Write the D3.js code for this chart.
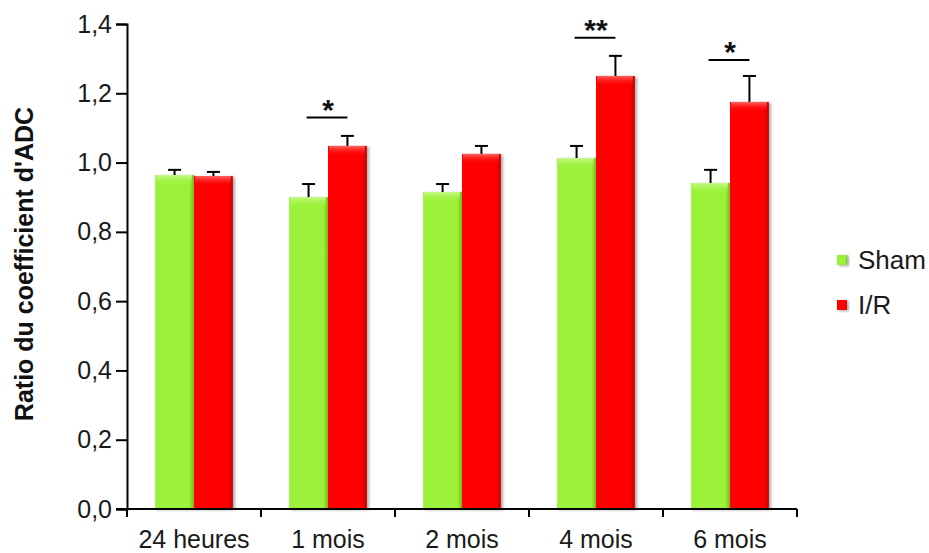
<!DOCTYPE html>
<html><head><meta charset="utf-8">
<script src="https://cdn.jsdelivr.net/npm/d3@7"></script>
<style>body{margin:0;background:#fff}svg{display:block;font-family:"Liberation Sans",Arial,sans-serif}</style>
</head><body><svg id="c" width="929" height="553"></svg>
<script>
const categories = ["24 heures","1 mois","2 mois","4 mois","6 mois"];
const seriesNames = ["Sham","I/R"];
const shamValues = [0.964, 0.900, 0.915, 1.013, 0.941];
const shamErrors = [0.015, 0.038, 0.023, 0.035, 0.038];
const irValues = [0.961, 1.048, 1.025, 1.250, 1.175];
const irErrors = [0.012, 0.029, 0.023, 0.058, 0.075];
const yTicks = [0,0.2,0.4,0.6,0.8,1.0,1.2,1.4];
const signif = [{cat:"1 mois",label:"*",level:1.13},{cat:"4 mois",label:"**",level:1.36},{cat:"6 mois",label:"*",level:1.296}];
const colors = {Sham:"#9cf23a", "I/R":"#ff0000"};
const dark = {Sham:"#6fbf1a", "I/R":"#c40000"};
const light = {Sham:"#cdfa95", "I/R":"#ff7070"};

const svg = d3.select("#c");
const m = {left:127, top:24, right:132, bottom:44};
const W = 929 - m.left - m.right, H = 553 - m.top - m.bottom;
const g = svg.append("g").attr("transform",`translate(${m.left},${m.top})`);

const x = d3.scaleBand().domain(categories).range([0,W]).paddingInner(0).paddingOuter(0);
const x1 = d3.scaleBand().domain(seriesNames).range([x.bandwidth()*0.21, x.bandwidth()*0.79]);
const y = d3.scaleLinear().domain([0,1.4]).range([H,0]);

const defs = svg.append("defs");
const f = defs.append("filter").attr("id","sh").attr("x","-20%").attr("y","-20%").attr("width","150%").attr("height","150%");
f.append("feDropShadow").attr("dx",2).attr("dy",1).attr("stdDeviation",1.5).attr("flood-color","#000").attr("flood-opacity",0.35);
seriesNames.forEach((s,i)=>{
  const lg = defs.append("linearGradient").attr("id","gh"+i).attr("x1","0").attr("x2","1").attr("y1","0").attr("y2","0");
  lg.append("stop").attr("offset","0").attr("stop-color",colors[s]);
  lg.append("stop").attr("offset","0.88").attr("stop-color",colors[s]);
  lg.append("stop").attr("offset","1").attr("stop-color",dark[s]);
  const tv = defs.append("linearGradient").attr("id","gt"+i).attr("x1","0").attr("x2","0").attr("y1","0").attr("y2","1");
  tv.append("stop").attr("offset","0").attr("stop-color",light[s]).attr("stop-opacity",0.9);
  tv.append("stop").attr("offset","1").attr("stop-color",colors[s]).attr("stop-opacity",0);
});

const data = [];
categories.forEach((c,i)=>{
  data.push({c,s:"Sham",v:shamValues[i],e:shamErrors[i],k:0});
  data.push({c,s:"I/R",v:irValues[i],e:irErrors[i],k:1});
});

// error bars (behind)
const eb = g.append("g").attr("stroke","#000").attr("stroke-width",2);
data.forEach(d=>{
  const cx = x(d.c)+x1(d.s)+x1.bandwidth()/2;
  eb.append("line").attr("x1",cx).attr("x2",cx).attr("y1",y(d.v)).attr("y2",y(d.v+d.e));
  eb.append("line").attr("x1",cx-6.5).attr("x2",cx+6.5).attr("y1",y(d.v+d.e)).attr("y2",y(d.v+d.e));
});

const bars = g.append("g").selectAll("g").data(data).join("g");
bars.append("rect").attr("x",d=>x(d.c)+x1(d.s)).attr("width",x1.bandwidth())
  .attr("y",d=>y(d.v)).attr("height",d=>H-y(d.v)).attr("fill",d=>`url(#gh${d.k})`).attr("filter","url(#sh)");
bars.append("rect").attr("x",d=>x(d.c)+x1(d.s)+1).attr("width",x1.bandwidth()-3)
  .attr("y",d=>y(d.v)).attr("height",10).attr("fill",d=>`url(#gt${d.k})`);

// axes
const ya = g.append("g").call(d3.axisLeft(y).tickValues(yTicks).tickSize(11).tickPadding(4).tickFormat(d=>d3.format(".1f")(d).replace(".",",")));
ya.select(".domain").attr("stroke","#000").attr("stroke-width",2);
ya.selectAll(".tick line").attr("stroke","#000").attr("stroke-width",2);
ya.selectAll("text").attr("font-size",25).attr("fill","#1a1a1a");

const xa = g.append("g").attr("transform",`translate(0,${H})`);
xa.append("line").attr("x1",-11).attr("x2",W).attr("stroke","#000").attr("stroke-width",2);
const bounds = categories.map(c=>x(c)).concat([W]);
xa.selectAll(".tk").data(bounds).join("line").attr("x1",d=>d).attr("x2",d=>d).attr("y1",0).attr("y2",8).attr("stroke","#000").attr("stroke-width",2);
xa.selectAll(".lb").data(categories).join("text").attr("x",d=>x(d)+x.bandwidth()/2).attr("y",39)
  .attr("text-anchor","middle").attr("font-size",25).attr("fill","#1a1a1a").text(d=>d);

// significance
signif.forEach(s=>{
  const a = x(s.cat)+x1("Sham")+x1.bandwidth()/2, b = x(s.cat)+x1("I/R")+x1.bandwidth()/2;
  g.append("line").attr("x1",a-2).attr("x2",b).attr("y1",y(s.level)).attr("y2",y(s.level)).attr("stroke","#000").attr("stroke-width",2);
  g.append("text").attr("x",(a+b)/2).attr("y",y(s.level)+2).attr("text-anchor","middle").attr("font-size",30).attr("font-weight","bold").attr("fill","#111").text(s.label);
});

// y title
svg.append("text").attr("transform",`translate(33,264) rotate(-90)`).attr("text-anchor","middle")
  .attr("font-size",25).attr("font-weight","bold").attr("fill","#111").text("Ratio du coefficient  d'ADC");

// legend
const lg = svg.append("g").attr("transform","translate(837,255)");
seriesNames.forEach((s,i)=>{
  const r = lg.append("g").attr("transform",`translate(0,${i*45})`);
  r.append("rect").attr("width",10).attr("height",10).attr("fill",`url(#gh${i})`).attr("filter","url(#sh)");
  r.append("text").attr("x",21).attr("y",14).attr("font-size",26).attr("fill","#1a1a1a").text(s);
});
</script></body></html>
